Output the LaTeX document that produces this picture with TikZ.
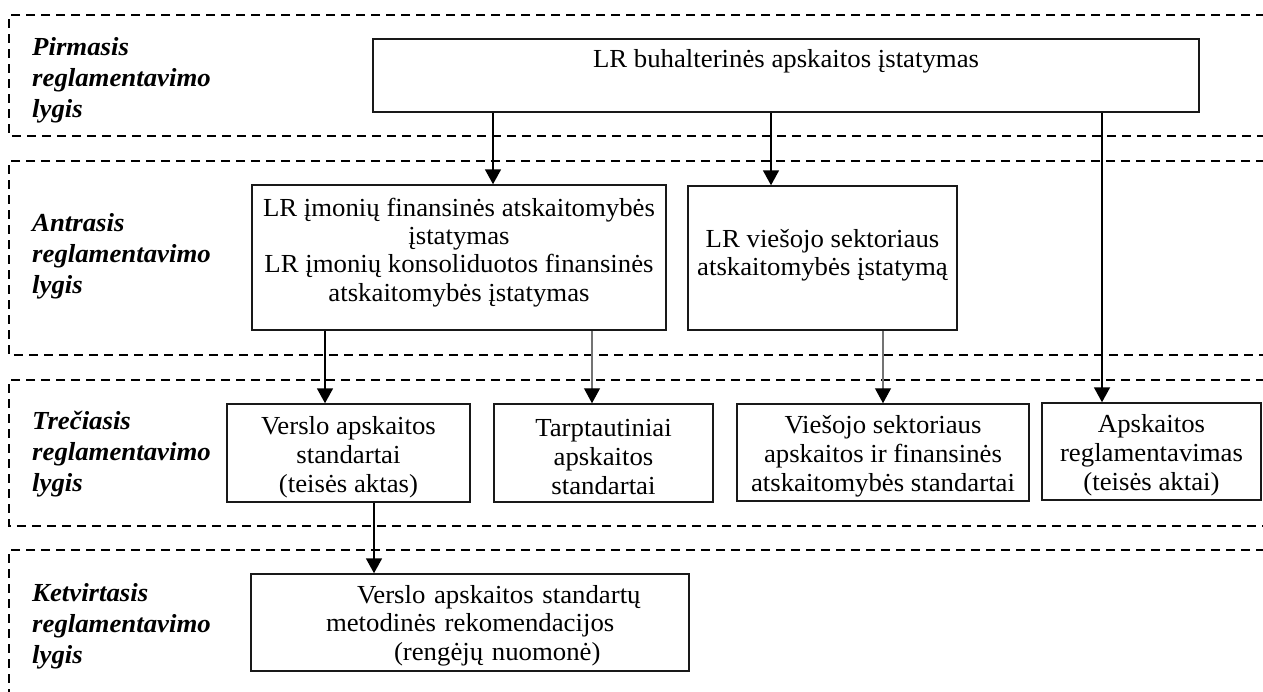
\documentclass[tikz,border=0pt]{standalone}
\usepackage{fontspec}
\setmainfont{Liberation Serif}[FakeStretch=1.03]
\usetikzlibrary{arrows.meta}
\begin{document}
\begin{tikzpicture}[x=1pt,y=-1pt,
  band/.style={draw=black,line width=1.5pt,dash pattern=on 9pt off 6pt},
  lvl/.style={anchor=west,inner sep=0pt,align=left,font=\fontsize{26}{31}\selectfont\bfseries\itshape},
  box/.style={draw=black!90,line width=1.5pt,inner sep=0pt,align=center,font=\fontsize{26}{29}\selectfont},
  arr/.style={line width=1.8pt,-{Triangle[length=15pt,width=16pt,color=black]}},
  garr/.style={line width=1.2pt,draw=black!55,-{Triangle[length=15pt,width=16pt,color=black]}}]
\useasboundingbox (0,0) rectangle (1263,691);
% dashed bands
\draw[band] (1265,15) -- (9,15) -- (9,136) -- (1265,136);
\draw[band] (1265,161) -- (9,161) -- (9,355) -- (1265,355);
\draw[band] (1265,380) -- (9,380) -- (9,526) -- (1265,526);
\draw[band] (1265,550) -- (9,550) -- (9,700);
% level labels
\node[lvl] (l1) at (32,80) {Pirmasis\\reglamentavimo\\lygis};
\node[lvl] (l2) at (32,256) {Antrasis\\reglamentavimo\\lygis};
\node[lvl] (l3) at (32,454) {Trečiasis\\reglamentavimo\\lygis};
\node[lvl] (l4) at (32,626) {Ketvirtasis\\reglamentavimo\\lygis};
% boxes
\node[box,minimum width=826pt,minimum height=73pt,text height=18pt,text depth=35pt] (b1) at (786,75.5) {LR buhalterinės apskaitos įstatymas};
\node[box,minimum width=414pt,minimum height=145pt,font=\fontsize{26}{28.3}\selectfont] (b2a) at (459,257.5) {LR įmonių finansinės atskaitomybės\\įstatymas\\LR įmonių konsoliduotos finansinės\\atskaitomybės įstatymas\rule[-15.7pt]{0pt}{0pt}};
\node[box,minimum width=269pt,minimum height=144pt,font=\fontsize{26}{28}\selectfont] (b2b) at (822.5,258) {LR viešojo sektoriaus\\atskaitomybės įstatymą\rule[-11.7pt]{0pt}{0pt}};
\node[box,minimum width=243pt,minimum height=98pt] (b3a) at (348.5,453) {\rule{0pt}{25.8pt}Verslo apskaitos\\standartai\\(teisės aktas)};
\node[box,minimum width=219pt,minimum height=98pt] (b3b) at (603.5,453) {\rule{0pt}{25.8pt}Tarptautiniai\\apskaitos\\standartai};
\node[box,minimum width=292pt,minimum height=97pt] (b3c) at (883,452.5) {\rule{0pt}{25.8pt}Viešojo sektoriaus\\apskaitos ir finansinės\\atskaitomybės standartai};
\node[box,minimum width=219pt,minimum height=97pt] (b3d) at (1151.5,451.5) {\rule{0pt}{25.8pt}Apskaitos\\reglamentavimas\\(teisės aktai)};
\node[box,minimum width=438pt,minimum height=97pt,text width=438pt,align=left,font=\fontsize{26}{28.5}\selectfont] (b4) at (470,622.5) {\rule{0pt}{23.8pt}\hspace*{106pt}Verslo apskaitos standartų\\\hspace*{75pt}metodinės rekomendacijos\\\hspace*{143pt}(rengėjų nuomonė)};
% connectors
\draw[arr] ([xshift=-293pt]b1.south) -- ([xshift=34pt]b2a.north);
\draw[arr] ([xshift=-15pt]b1.south) -- ([xshift=-51.5pt]b2b.north);
\draw[arr] ([xshift=316pt]b1.south) -- ([xshift=-49.5pt]b3d.north);
\draw[arr] ([xshift=-134pt]b2a.south) -- ([xshift=-23.5pt]b3a.north);
\draw[garr] ([xshift=133pt]b2a.south) -- ([xshift=-11.5pt]b3b.north);
\draw[garr] ([xshift=60.5pt]b2b.south) -- (b3c.north);
\draw[arr] ([xshift=25.5pt]b3a.south) -- ([xshift=-96pt]b4.north);
\end{tikzpicture}
\end{document}
